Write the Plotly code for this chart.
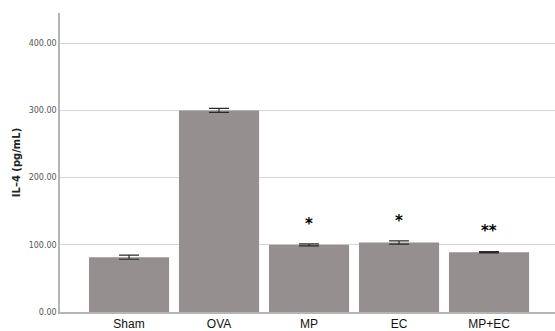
import plotly.graph_objects as go

groups = ["Sham", "OVA", "MP", "EC", "MP+EC"]
il4 = [81.5, 300.0, 100.0, 103.5, 89.0]
sem = [3.0, 3.0, 1.5, 2.5, 1.0]
marks = ["", "", "*", "*", "**"]
yticks = [0, 100, 200, 300, 400]
ytick_text = ["0.00", "100.00", "200.00", "300.00", "400.00"]

fig = go.Figure()
fig.add_trace(go.Bar(
    x=groups, y=il4, width=0.89,
    marker=dict(color="#968f8f", line=dict(width=0)),
    error_y=dict(type="data", array=sem, visible=True, color="#2a2a2a",
                 thickness=1.2, width=10),
))
for g, v, m in zip(groups, il4, marks):
    if m:
        fig.add_annotation(x=g, y=v, text="<b>" + m + "</b>", showarrow=False, yshift=21,
                           font=dict(size=15, color="#000000", family="DejaVu Sans"),
                           yanchor="middle")

fig.update_layout(
    width=555, height=331,
    margin=dict(l=60, r=0, t=13, b=19),
    paper_bgcolor="white", plot_bgcolor="white",
    showlegend=False,
    bargap=0.11,
    xaxis=dict(range=[-0.767, 4.733], showline=True, linecolor="#b5b5b5",
               linewidth=1.5, ticks="", showgrid=False,
               tickfont=dict(size=12, color="#111", family="Liberation Sans Narrow, Arial Narrow, sans-serif")),
    yaxis=dict(range=[0, 445], tickvals=yticks, ticktext=ytick_text,
               showline=True, linecolor="#b5b5b5", linewidth=1.5,
               showgrid=True, gridcolor="#d6d6d6", gridwidth=1.2,
               zeroline=False, ticks="",
               tickfont=dict(size=8, color="#555", family="DejaVu Sans"),
               title=dict(text="<b>IL–4 (pg/mL)</b>", standoff=6,
                          font=dict(size=10, color="#222", family="DejaVu Sans"))),
)
fig.write_html("out.html")
